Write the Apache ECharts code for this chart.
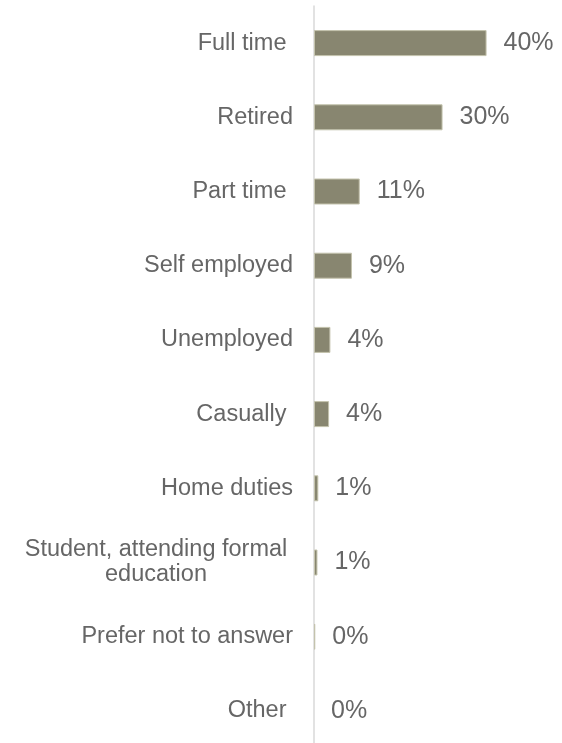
<!DOCTYPE html>
<html><head><meta charset="utf-8">
<script src="https://cdn.jsdelivr.net/npm/echarts@6/dist/echarts.min.js"></script>
<style>html,body{margin:0;padding:0;background:#fff;overflow:hidden}#c{width:562px;height:760px}</style>
</head><body><div id="c"></div>
<script>
const categories = ["Full time ","Retired","Part time ","Self employed","Unemployed","Casually ","Home duties","Student, attending formal\neducation","Prefer not to answer","Other "];
const values = [40.0, 29.8, 10.6, 8.8, 3.8, 3.5, 1.0, 0.8, 0.3, 0.0];
const labels = ["40%","30%","11%","9%","4%","4%","1%","1%","0%","0%"];

const catData = categories.map(c => c.indexOf('\n') >= 0
  ? {value:c, textStyle:{align:'center', padding:[0,274,0,0]}}
  : c);
const barData = values.map(v => v === 0 ? {value:v, itemStyle:{borderWidth:0}} : v);

const chart = echarts.init(document.getElementById('c'), null, {renderer:'canvas'});
chart.setOption({
  animation:false,
  grid:{left:314, top:6, width:218, height:742},
  xAxis:{type:'value', min:0, max:50, show:false},
  yAxis:{type:'category', inverse:true, data:catData,
    axisLine:{show:true, lineStyle:{color:'#d9d9d9', width:1.5}},
    axisTick:{show:false},
    axisLabel:{color:'#666666', fontSize:23.5, fontFamily:'Liberation Sans, Arial', margin:21, align:'right', lineHeight:25}
  },
  series:[{type:'bar', data:barData, barWidth:26,
    itemStyle:{color:'#888670', borderColor:'#c4c3ad', borderWidth:1},
    label:{show:true, position:'right', distance:17, color:'#666666', fontSize:25, fontFamily:'Liberation Sans, Arial',
      formatter:p=>labels[p.dataIndex]}
  }]
});
</script></body></html>
